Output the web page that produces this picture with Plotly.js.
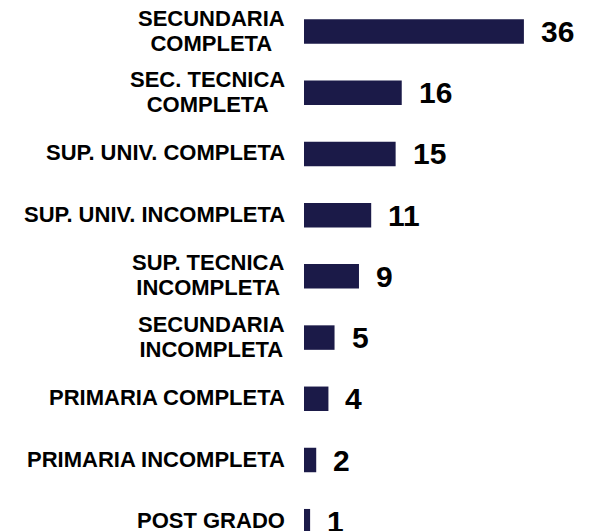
<!DOCTYPE html>
<html>
<head>
<meta charset="utf-8">
<script src="https://cdn.plot.ly/plotly-3.0.1.min.js"></script>
<style>
  html, body { margin: 0; padding: 0; background: #ffffff; }
  #chart { width: 591px; height: 531px; }
</style>
</head>
<body>
<div id="chart"></div>
<script>
// categories from bottom to top
const categories = [
  'POST GRADO',
  'PRIMARIA INCOMPLETA',
  'PRIMARIA COMPLETA',
  'SECUNDARIA<br>INCOMPLETA',
  'SUP. TECNICA<br>INCOMPLETA',
  'SUP. UNIV. INCOMPLETA',
  'SUP. UNIV. COMPLETA',
  'SEC. TECNICA<br>COMPLETA',
  'SECUNDARIA<br>COMPLETA'
];
// counts for each category
const counts = [1, 2, 4, 5, 9, 11, 15, 16, 36];

const barColor = '#1b1a48';
const fontFamily = 'Liberation Sans, Arial, sans-serif';

// the bars
const data = [{
  type: 'bar',
  orientation: 'h',
  x: counts,
  y: categories,
  marker: {color: barColor, line: {width: 0}},
  hoverinfo: 'none'
}];

// category labels (centered lines) and value labels
const annotations = [];
categories.forEach((cat, i) => {
  annotations.push({
    xref: 'paper', yref: 'y',
    x: 0, y: cat,
    xanchor: 'right', yanchor: 'middle',
    xshift: -17, yshift: 1,
    align: 'center',
    text: cat,
    showarrow: false,
    font: {family: fontFamily, size: 22, color: '#000000', weight: 'bold'}
  });
  annotations.push({
    xref: 'x', yref: 'y',
    x: counts[i], y: cat,
    xanchor: 'left', yanchor: 'middle',
    xshift: 15,
    text: String(counts[i]),
    showarrow: false,
    font: {family: fontFamily, size: 30, color: '#000000', weight: 'bold'}
  });
});

const layout = {
  width: 591,
  height: 531,
  margin: {l: 304, r: 6, t: 0, b: 0},
  paper_bgcolor: '#ffffff',
  plot_bgcolor: '#ffffff',
  showlegend: false,
  bargap: 0.6,
  xaxis: {
    range: [0, 46],
    visible: false,
    fixedrange: true
  },
  yaxis: {
    type: 'category',
    range: [-0.16, 8.515],
    showticklabels: false,
    showgrid: false,
    zeroline: false,
    showline: false,
    fixedrange: true
  },
  annotations: annotations
};

Plotly.newPlot('chart', data, layout, {displayModeBar: false, staticPlot: true}).then(() => {
  // tighten the two-line labels: the reference uses a shorter line pitch than plotly's 1.3em
  document.querySelectorAll('#chart .annotation-text').forEach(txt => {
    const lines = txt.querySelectorAll('tspan.line');
    if (lines.length === 2) {
      lines[0].setAttribute('dy', '0.08em');
      lines[1].setAttribute('dy', '1.22em');
    }
  });
});
</script>
</body>
</html>
